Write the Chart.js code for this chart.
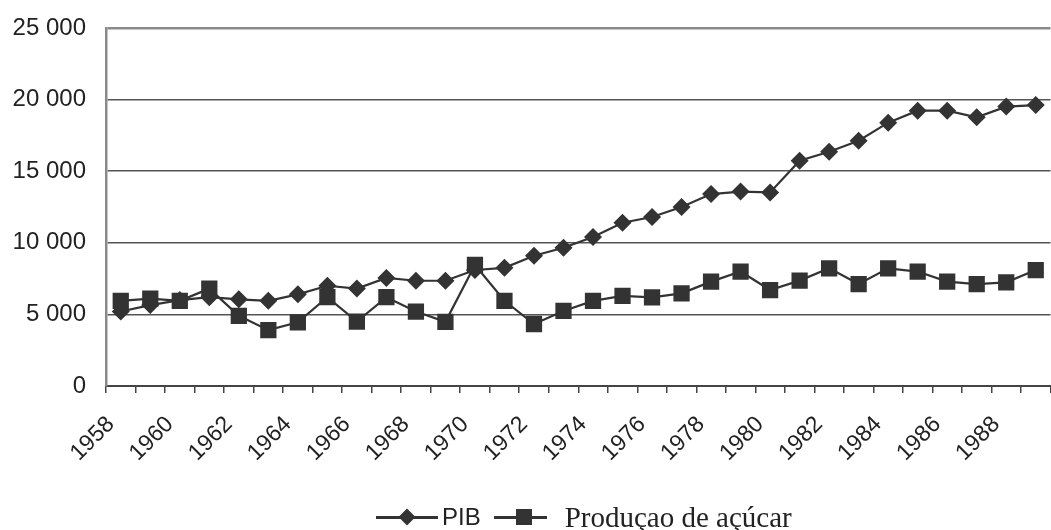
<!DOCTYPE html>
<html>
<head>
<meta charset="utf-8">
<script src="https://cdn.jsdelivr.net/npm/chart.js@4"></script>
<style>
    html, body { margin: 0; padding: 0; background: #fff; overflow: hidden; }
    #wrap { position: relative; width: 1062px; height: 530px; }
    #legend { position: absolute; left: 376px; top: 502px; height: 30px; display: flex; align-items: center; color: #222; }
    .item { display: flex; align-items: center; }
    .line { position: relative; height: 3px; background: #333; }
    .l1 { width: 62px; }
    .l2 { width: 53px; }
    .diamond { position: absolute; left: 25px; top: -5px; width: 12px; height: 12px; background: #333; transform: rotate(45deg); }
    .square { position: absolute; left: 22px; top: -7px; width: 16px; height: 16px; background: #333; }
    .lab1 { font: 24px "Liberation Sans", Arial, sans-serif; margin: 0 13px 0 4px; }
    .lab2 { font: 29px "Liberation Serif", "Times New Roman", serif; margin-left: 18px; }
</style>
</head>
<body>
<div id="wrap">
    <canvas id="chart" width="1062" height="530"></canvas>
    <div id="legend">
        <div class="item"><div class="line l1"><div class="diamond"></div></div><span class="lab1">PIB</span></div>
        <div class="item"><div class="line l2"><div class="square"></div></div><span class="lab2">Produçao de açúcar</span></div>
    </div>
</div>
<script>
const years = ['1958', '1959', '1960', '1961', '1962', '1963', '1964', '1965', '1966', '1967',
    '1968', '1969', '1970', '1971', '1972', '1973', '1974', '1975', '1976', '1977',
    '1978', '1979', '1980', '1981', '1982', '1983', '1984', '1985', '1986', '1987',
    '1988', '1989'];

const pib = [5200, 5650, 6000, 6200, 6050, 5950, 6400, 7000, 6800, 7550,
    7350, 7350, 8100, 8250, 9100, 9650, 10400, 11400, 11800, 12500,
    13400, 13580, 13520, 15730, 16360, 17130, 18390, 19230, 19230, 18760,
    19510, 19620];

const acucar = [5950, 6100, 5950, 6800, 4900, 3900, 4450, 6200, 4500, 6200,
    5200, 4480, 8450, 5950, 4330, 5240, 5940, 6290, 6190, 6470,
    7290, 7990, 6700, 7360, 8220, 7120, 8220, 7990, 7290, 7120,
    7240, 8100];

const yTicks = [0, 5000, 10000, 15000, 20000, 25000];

function fmtThousands(v) {
    return String(v).replace(/\B(?=(\d{3})+(?!\d))/g, ' ');
}

const ctx = document.getElementById('chart');

new Chart(ctx, {
    type: 'line',
    data: {
        labels: years,
        datasets: [
            {
                label: 'PIB',
                data: pib,
                borderColor: '#333333',
                backgroundColor: '#333333',
                borderWidth: 2.2,
                pointStyle: 'rectRot',
                pointRadius: 9,
                pointBorderWidth: 0,
                tension: 0
            },
            {
                label: 'Produçao de açúcar',
                data: acucar,
                borderColor: '#333333',
                backgroundColor: '#333333',
                borderWidth: 2.2,
                pointStyle: 'rect',
                pointRadius: 11.5,
                pointBorderWidth: 0,
                tension: 0
            }
        ]
    },
    options: {
        responsive: false,
        animation: false,
        layout: {
            padding: { top: 28, right: 2, left: 0, bottom: 0 }
        },
        plugins: {
            legend: { display: false },
            tooltip: { enabled: false }
        },
        scales: {
            x: {
                offset: true,
                afterFit: function (scale) {
                    scale.height = 144;
                    scale.paddingLeft = 0;
                    scale.paddingRight = 0;
                },
                grid: {
                    offset: true,
                    drawOnChartArea: false,
                    drawTicks: true,
                    tickLength: 7,
                    color: '#444',
                    lineWidth: 1.5
                },
                border: { display: true, color: '#444', width: 2 },
                ticks: {
                    autoSkip: false,
                    maxRotation: 45,
                    minRotation: 45,
                    padding: 18,
                    labelOffset: -10,
                    color: '#222',
                    font: { family: '"Liberation Sans", Arial, sans-serif', size: 23 },
                    callback: function (value, index) {
                        return index % 2 === 0 ? years[index] : '';
                    }
                }
            },
            y: {
                min: 0,
                max: 25000,
                afterFit: function (scale) {
                    scale.width = 106;
                    scale.paddingTop = 0;
                    scale.paddingBottom = 0;
                },
                afterBuildTicks: function (scale) {
                    scale.ticks = yTicks.map(v => ({ value: v }));
                },
                grid: {
                    drawTicks: false,
                    color: function (c) {
                        return c.tick && c.tick.value === 25000 ? '#8a8a8a' : '#555';
                    },
                    lineWidth: function (c) {
                        return c.tick && c.tick.value === 25000 ? 2.5 : 1.5;
                    }
                },
                border: { display: true, color: '#8a8a8a', width: 2.5 },
                ticks: {
                    padding: 20,
                    color: '#222',
                    font: { family: '"Liberation Sans", Arial, sans-serif', size: 24 },
                    callback: function (value) {
                        return fmtThousands(value);
                    }
                }
            }
        }
    }
});
</script>
</body>
</html>
